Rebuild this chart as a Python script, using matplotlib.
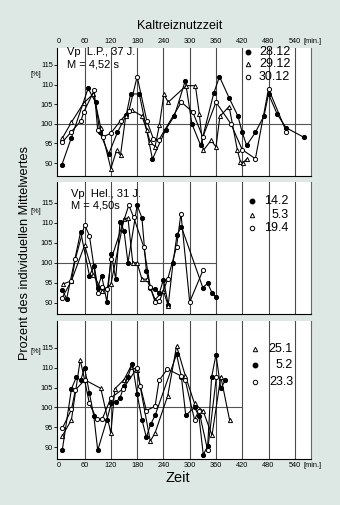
import matplotlib
matplotlib.use("Agg")
import matplotlib.pyplot as plt

plt.rcParams['font.family'] = ['Liberation Sans', 'DejaVu Sans']

# ---------------- data ----------------
xticks = [0, 60, 120, 180, 240, 300, 360, 420, 480, 540]
xticklabels = ["0", "60", "120", "180", "240", "300", "360", "420", "480", "540"]
xunit = "[min.]"
yticks = [90, 95, 100, 105, 110, 115]

# Panel 1: Vp L.P., 37 J.
p1_a_label = "28.12"
p1_a_x = [8, 30, 68, 85, 95, 115, 135, 155, 165, 185, 215, 245, 265, 290, 305, 325, 355, 368, 390, 410, 420, 430, 450, 470, 480, 500, 520, 560]
p1_a_y = [89.5, 96.5, 109, 105.5, 97.8, 92.3, 97.8, 102.2, 107.6, 107.6, 91, 98.5, 102, 111, 100, 94.5, 107.8, 112, 106.6, 102, 97.8, 94.5, 97.8, 102.1, 107.6, 102.4, 99, 96.6]
p1_b_label = "29.12"
p1_b_x = [9, 30, 58, 80, 97, 120, 133, 142, 154, 169, 191, 202, 210, 221, 231, 241, 251, 292, 313, 322, 331, 349, 360, 369, 390, 409, 416, 421, 431]
p1_b_y = [96.3, 100.4, 105.3, 107.6, 99, 88.6, 93.2, 92, 102, 103.4, 102, 98.3, 95.3, 94.2, 99.8, 107.5, 105.5, 109.7, 109.7, 102.5, 93.2, 95.8, 94.1, 101.9, 104.4, 93.2, 90.3, 90, 91.1]
p1_c_label = "30.12"
p1_c_x = [9, 30, 52, 58, 82, 90, 101, 120, 142, 161, 180, 202, 217, 229, 281, 307, 330, 360, 394, 420, 450, 480, 521]
p1_c_y = [95.3, 98, 100.8, 103, 108.5, 98.3, 96.6, 97.6, 100.8, 103.2, 112, 100.8, 96.2, 95.8, 105.5, 103, 96.6, 105.5, 100, 93.4, 91.1, 108.9, 97.9]

# Panel 2: Vp Hel., 31 J.
p2_a_label = "14.2"
p2_a_x = [9, 19, 51, 71, 82, 90, 99, 111, 121, 131, 141, 150, 159, 180, 191, 201, 210, 221, 231, 240, 251, 262, 271, 281, 330, 341, 351, 360]
p2_a_y = [93.2, 91, 107.8, 96.8, 99.3, 93.8, 96.8, 90.2, 102.3, 95.9, 110.3, 108, 100, 114.4, 111.2, 98, 93.6, 93.4, 92.5, 95.8, 89.5, 100, 107, 109, 93.8, 94.9, 92.5, 91.4]
p2_b_label = "5.3"
p2_b_x = [11, 30, 60, 80, 100, 120, 150, 159, 170, 180, 191, 202, 221, 240, 251]
p2_b_y = [94.7, 95.5, 104.4, 97, 93, 94.6, 111, 111.2, 100, 100, 95.9, 95.9, 90.8, 93, 89.2]
p2_c_label = "19.4"
p2_c_x = [9, 30, 39, 60, 71, 90, 100, 112, 121, 161, 172, 195, 210, 221, 231, 250, 270, 280, 300, 331]
p2_c_y = [91.3, 95.5, 101, 109.5, 106.8, 92.5, 94, 93.4, 101, 114.4, 111.4, 104, 94, 90.2, 90.4, 96, 104, 112.3, 90.2, 98.3]

# Panel 3
p3_a_label = "25.1"
p3_a_x = [9, 30, 50, 60, 97, 120, 129, 150, 165, 180, 210, 221, 250, 270, 290, 311, 331, 351, 371, 391]
p3_a_y = [92.8, 96.9, 112, 107, 104.8, 93.5, 104.7, 107, 110.2, 109.5, 91.5, 93.6, 103, 115.5, 108, 101, 99, 93, 107.8, 96.9]
p3_b_label = "5.2"
p3_b_x = [9, 30, 41, 51, 60, 71, 81, 90, 111, 121, 131, 141, 150, 159, 169, 180, 191, 201, 211, 221, 270, 281, 291, 311, 321, 331, 341, 350, 360, 371, 381]
p3_b_y = [89.2, 104.7, 107.6, 106.8, 110, 103.6, 97.9, 89.2, 96.9, 101.1, 101.3, 102.4, 105.5, 107.8, 111, 103.4, 96.9, 92.5, 95.8, 98, 113.4, 107.8, 98, 100, 97.9, 88.1, 90.2, 107.6, 113.3, 104.8, 106.8]
p3_c_label = "23.3"
p3_c_x = [9, 30, 39, 60, 71, 88, 100, 120, 148, 180, 187, 201, 221, 230, 249, 281, 290, 311, 321, 341, 361]
p3_c_y = [94.7, 99.5, 104.4, 106.9, 101, 97, 97, 102.4, 104.7, 110, 105.5, 99.2, 100.3, 106.8, 109.7, 107.9, 106.8, 96.9, 99.2, 89.2, 107.8]

# ---------------- figure ----------------
W, H = 340, 505
fig = plt.figure(figsize=(W / 100, H / 100), dpi=100)
fig.patch.set_facecolor('#dde8e5')

def fr(x0, y0, x1, y1):
    return [x0 / W, 1 - y1 / H, (x1 - x0) / W, (y1 - y0) / H]

ax1 = fig.add_axes(fr(57, 48, 311, 176))
ax2 = fig.add_axes(fr(57, 182, 311, 314))
ax3 = fig.add_axes(fr(57, 321, 311, 459))

ylims = [(86.7, 119.3), (87.2, 120.2), (87.0, 121.8)]
hline_end = [577, 360, 420]
XLIM = (-3, 577)

mk = dict(color='black', lw=0.8, ms=3.0, mew=0.7)

def style(ax, i):
    ax.set_facecolor('white')
    ax.set_xlim(*XLIM)
    ax.set_ylim(*ylims[i])
    for v in xticks[1:]:
        ax.axvline(v, color='#4a4a4a', lw=0.8, zorder=1)
    ax.plot([XLIM[0], hline_end[i]], [100, 100], color='#555555', lw=0.8, zorder=1)
    ax.set_yticks(yticks)
    ax.set_yticklabels([str(t) for t in yticks], fontsize=5.3)
    ax.tick_params(axis='y', length=2, width=0.6, pad=1)
    for s in ['left', 'bottom', 'right', 'top']:
        ax.spines[s].set_linewidth(0.8)
    ax.spines['top'].set_visible(False)
    ax.spines['right'].set_color('#666666')
    ax.text(-0.085, 0.79 if i == 0 else 0.78, "[%]", transform=ax.transAxes, fontsize=5.3,
            ha='center', va='center')

for i, ax in enumerate([ax1, ax2, ax3]):
    style(ax, i)

def series(ax, x, y, kind):
    if kind == 'filled':
        ax.plot(x, y, marker='o', mfc='black', mec='black', zorder=3, **mk)
    elif kind == 'tri':
        ax.plot(x, y, marker='^', mfc='white', mec='black', zorder=3, **mk)
    else:
        ax.plot(x, y, marker='o', mfc='white', mec='black', zorder=3, **mk)

series(ax1, p1_a_x, p1_a_y, 'filled')
series(ax1, p1_b_x, p1_b_y, 'tri')
series(ax1, p1_c_x, p1_c_y, 'open')

series(ax2, p2_a_x, p2_a_y, 'filled')
series(ax2, p2_b_x, p2_b_y, 'tri')
series(ax2, p2_c_x, p2_c_y, 'open')

series(ax3, p3_a_x, p3_a_y, 'tri')
series(ax3, p3_b_x, p3_b_y, 'filled')
series(ax3, p3_c_x, p3_c_y, 'open')

# x ticks
ax1.xaxis.tick_top()
ax1.set_xticks(xticks)
ax1.set_xticklabels(xticklabels, fontsize=5.3)
ax1.tick_params(axis='x', length=0, pad=2)
ax2.set_xticks([])
ax3.set_xticks(xticks)
ax3.set_xticklabels(xticklabels, fontsize=5.3)
ax3.tick_params(axis='x', length=0, pad=2)
ax1.text(559, 1.0 + 2.6 / 128, xunit, transform=ax1.get_xaxis_transform(), fontsize=5.3,
         ha='left', va='bottom')
ax3.text(559, -2.6 / 138, xunit, transform=ax3.get_xaxis_transform(), fontsize=5.3,
         ha='left', va='top')

# legends (manual)
def legend(ax, rows, mx, tx, ys, ha):
    for (kind, label), yy in zip(rows, ys):
        if kind == 'filled':
            ax.plot([mx], [yy], marker='o', mfc='black', mec='black', ms=3.2, ls='none', zorder=4)
        elif kind == 'tri':
            ax.plot([mx], [yy], marker='^', mfc='white', mec='black', ms=3.2, mew=0.7, ls='none', zorder=4)
        else:
            ax.plot([mx], [yy], marker='o', mfc='white', mec='black', ms=3.2, mew=0.7, ls='none', zorder=4)
        ax.text(tx, yy, label, fontsize=9, ha=ha, va='center', zorder=4)

legend(ax1, [('filled', p1_a_label), ('tri', p1_b_label), ('open', p1_c_label)],
       433, 458, [118.3, 115.2, 111.8], 'left')
legend(ax2, [('filled', p2_a_label), ('tri', p2_b_label), ('open', p2_c_label)],
       443, 526, [115.5, 112.0, 108.8], 'right')
legend(ax3, [('tri', p3_a_label), ('filled', p3_b_label), ('open', p3_c_label)],
       450, 536, [114.7, 110.6, 106.3], 'right')

ax1.text(20, 118.2, "Vp  L.P., 37 J.", fontsize=8, va='center', ha='left')
ax1.text(20, 115.0, "M = 4,52 s", fontsize=8, va='center', ha='left')
ax2.text(30, 117.3, "Vp  Hel., 31 J.", fontsize=8, va='center', ha='left')
ax2.text(30, 114.3, "M = 4,50s", fontsize=8, va='center', ha='left')

fig.text(180 / W, 1 - 26 / H, "Kaltreiznutzzeit", fontsize=9, ha='center', va='center')
fig.text(178 / W, 1 - 478 / H, "Zeit", fontsize=10.5, ha='center', va='center')
fig.text(25 / W, 1 - 253 / H, "Prozent des individuellen Mittelwertes", fontsize=9.2,
         ha='center', va='center', rotation=90)

fig.savefig("out.png", dpi=100, facecolor=fig.get_facecolor())
